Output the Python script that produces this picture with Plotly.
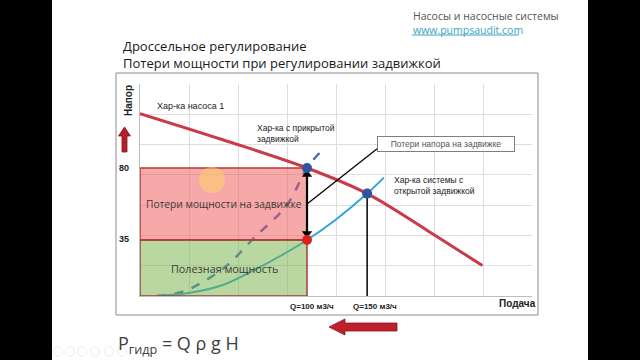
import plotly.graph_objects as go

# ---------------- data (schematic, axis units) ----------------
pump_q = [0, 50, 100, 136, 172, 205]
pump_h = [114, 97.5, 80, 64, 41, 19]

closed_q = [10, 25, 38, 52, 68, 88, 100, 108]
closed_h = [0, 2.5, 9, 19, 36, 57, 80, 90]

open_q = [10, 30, 50, 68, 84, 100, 117, 136, 146]
open_h = [0, 2, 7, 16, 25, 35, 47.5, 64, 74]

q_closed_op = 100     # operating point with throttled valve
h_closed_op = 80
h_useful = 35
q_open_op = 136       # drawn position of open-valve operating point
h_open_op = 64

q_labels = ["Q=100 м3/ч", "Q=150 м3/ч"]
h_labels = ["80", "35"]

# ---------------- layout geometry ----------------
W, H = 640, 360
L, R, T, B = 140, 532, 84, 296   # plot area in pixels
DX = 29.34
DY = 18.93
XR = 8 * DX
YR = 7 * DY


def px(x, y):
    return (x - L) / (R - L), (B - y) / (B - T)


fig = go.Figure()

# curves
fig.add_trace(go.Scatter(x=pump_q, y=pump_h, mode="lines", line=dict(color="#c93a4a", width=3, shape="spline"),
                         hoverinfo="skip"))
fig.add_trace(go.Scatter(x=closed_q, y=closed_h, mode="lines",
                         line=dict(color="#4470c0", width=2.5, dash="dash", shape="spline"), hoverinfo="skip"))
fig.add_trace(go.Scatter(x=open_q, y=open_h, mode="lines",
                         line=dict(color="#2fa6da", width=2, shape="spline"), hoverinfo="skip"))

# power rectangles
fig.add_trace(go.Scatter(x=[0, q_closed_op, q_closed_op, 0, 0], y=[h_useful, h_useful, h_closed_op, h_closed_op, h_useful],
                         mode="lines", fill="toself", fillcolor="rgba(239,83,83,0.5)",
                         line=dict(color="#b83a3a", width=1.5), hoverinfo="skip"))
fig.add_trace(go.Scatter(x=[0, q_closed_op, q_closed_op, 0, 0], y=[0, 0, h_useful, h_useful, 0],
                         mode="lines", fill="toself", fillcolor="rgba(115,175,65,0.5)",
                         line=dict(color="#a83a3a", width=1.5), hoverinfo="skip"))

# vertical line at open operating point
fig.add_trace(go.Scatter(x=[q_open_op, q_open_op], y=[0, h_open_op], mode="lines",
                         line=dict(color="black", width=1.5), hoverinfo="skip"))

# callout line
fig.add_trace(go.Scatter(x=[q_closed_op, 142], y=[(h_closed_op + h_useful) / 2, 92], mode="lines",
                         line=dict(color="black", width=1.3), hoverinfo="skip"))

# double-headed arrow (head loss on the valve)
fig.add_trace(go.Scatter(x=[q_closed_op, q_closed_op], y=[h_useful + 4, h_closed_op - 4], mode="lines+markers",
                         line=dict(color="black", width=2.2),
                         marker=dict(symbol=["triangle-down", "triangle-up"], size=9, color="black"),
                         hoverinfo="skip"))

# markers
fig.add_trace(go.Scatter(x=[q_closed_op, q_open_op], y=[h_closed_op, h_open_op], mode="markers",
                         marker=dict(color="#2f55a0", size=10), hoverinfo="skip"))
fig.add_trace(go.Scatter(x=[q_closed_op], y=[h_useful], mode="markers",
                         marker=dict(color="#e0201b", size=10), hoverinfo="skip"))

shapes = []
# black side bars
shapes.append(dict(type="rect", xref="paper", yref="paper",
                   x0=px(0, 0)[0], x1=px(52, 0)[0], y0=px(0, 360)[1], y1=px(0, 0)[1],
                   fillcolor="black", line=dict(width=0), layer="above"))
shapes.append(dict(type="rect", xref="paper", yref="paper",
                   x0=px(588, 0)[0], x1=px(640, 0)[0], y0=px(0, 360)[1], y1=px(0, 0)[1],
                   fillcolor="black", line=dict(width=0), layer="above"))
# chart box
bx0, by0 = px(116, 73)
bx1, by1 = px(538, 315)
shapes.append(dict(type="rect", xref="paper", yref="paper", x0=bx0, x1=bx1, y0=by1, y1=by0,
                   line=dict(color="#8c8c8c", width=1), fillcolor="rgba(0,0,0,0)", layer="below"))


def path(points):
    s = ""
    for i, (x, y) in enumerate(points):
        X, Y = px(x, y)
        s += ("M" if i == 0 else "L") + f"{X:.5f},{Y:.5f} "
    return s + "Z"


# red up arrow next to "Напор"
shapes.append(dict(type="path", xref="paper", yref="paper",
                   path=path([(124.5, 127), (130.5, 136), (127, 136), (127, 152), (122, 152), (122, 136), (118.5, 136)]),
                   fillcolor="#b3202c", line=dict(color="#8a1520", width=0.8), layer="above"))
# red left arrow below chart
shapes.append(dict(type="path", xref="paper", yref="paper",
                   path=path([(329, 327), (345, 319), (345, 323), (397, 323), (397, 331), (345, 331), (345, 335)]),
                   fillcolor="#c0202c", line=dict(color="#8a1520", width=0.8), layer="above"))
# cursor highlight
cx0, cy0 = px(199, 167)
cx1, cy1 = px(225, 193)
shapes.append(dict(type="circle", xref="paper", yref="paper", x0=cx0, x1=cx1, y0=cy1, y1=cy0,
                   fillcolor="rgba(255,220,90,0.45)", line=dict(width=0), layer="above"))
# url underline
ux0, uy = px(412, 35)
ux1, _ = px(519, 35)
shapes.append(dict(type="line", xref="paper", yref="paper", x0=ux0, x1=ux1, y0=uy, y1=uy,
                   line=dict(color="#3aa3c4", width=1)))
# faint nav icons
for cxp in [58, 70, 82, 95, 109, 122]:
    a0, b0 = px(cxp - 4.5, 347)
    a1, b1 = px(cxp + 4.5, 356)
    shapes.append(dict(type="circle", xref="paper", yref="paper", x0=a0, x1=a1, y0=b1, y1=b0,
                       line=dict(color="#ececec", width=1), fillcolor="rgba(0,0,0,0)", layer="above"))

ann = []


def text(x, y, t, size=9, color="#222", xanchor="left", yanchor="middle", bold=False, family="Liberation Sans, Arial",
         **kw):
    X, Y = px(x, y)
    ann.append(dict(x=X, y=Y, xref="paper", yref="paper", text=("<b>%s</b>" % t) if bold else t,
                    showarrow=False, xanchor=xanchor, yanchor=yanchor,
                    font=dict(size=size, color=color, family=family), **kw))


slide_font = "Open Sans, DejaVu Sans"
text(121, 55, "Дроссельное регулирование<br>Потери мощности при регулировании задвижкой", size=13,
     color="#1a1a1a", family=slide_font, align="left")
text(411, 22.5, "Насосы и насосные системы<br><span style='color:#3aa3c4'>www.pumpsaudit.com</span>",
     size=10.5, color="#555", family=slide_font, align="left")

text(155, 106, "Хар-ка насоса 1", size=9)
text(255, 133.5, "Хар-ка с прикрытой<br>задвижкой", size=8.5, align="left")
text(392, 185.5, "Хар-ка системы с<br>открытой задвижкой", size=8.5, align="left")

text(224, 204, "Потери мощности на задвижке", size=10.2, color="#3a3a3a", xanchor="center", family=slide_font)
text(224, 268, "Полезная мощность", size=10.8, color="#3a3a3a", xanchor="center", family=slide_font)

text(124, 168, h_labels[0], size=9, xanchor="center", bold=True)
text(124, 239, h_labels[1], size=9, xanchor="center", bold=True)
text(128, 101, "Напор", size=10, xanchor="center", bold=True, textangle=-90)
text(517, 303, "Подача", size=10, xanchor="center", bold=True)
text(312, 306, q_labels[0], size=8, xanchor="center", bold=True)
text(375, 306, q_labels[1], size=8, xanchor="center", bold=True)

text(116, 344, "P<sub>гидр</sub> = Q ρ g H", size=18, color="#404040", family=slide_font)

# callout box
cbx, cby = px(446, 143.5)
ann.append(dict(x=cbx, y=cby, xref="paper", yref="paper", text="Потери напора на задвижке", showarrow=False,
                xanchor="center", yanchor="middle", width=134, height=12, bgcolor="white",
                bordercolor="#7f7f7f", borderwidth=1, borderpad=1,
                font=dict(size=8.5, color="#555", family="Liberation Sans, Arial")))

fig.update_layout(
    width=W, height=H,
    margin=dict(l=L, r=W - R, t=T, b=H - B, autoexpand=False),
    paper_bgcolor="white", plot_bgcolor="white",
    showlegend=False,
    shapes=shapes, annotations=ann,
    xaxis=dict(range=[0, XR], tick0=0, dtick=DX, showticklabels=False, ticks="",
               showgrid=True, gridcolor="#dedede", zeroline=False,
               showline=True, linecolor="#bdbdbd", fixedrange=True),
    yaxis=dict(range=[0, YR], tick0=0, dtick=DY, showticklabels=False, ticks="",
               showgrid=True, gridcolor="#dedede", zeroline=False,
               showline=True, linecolor="#bdbdbd", fixedrange=True),
)

fig.write_html("out.html")
